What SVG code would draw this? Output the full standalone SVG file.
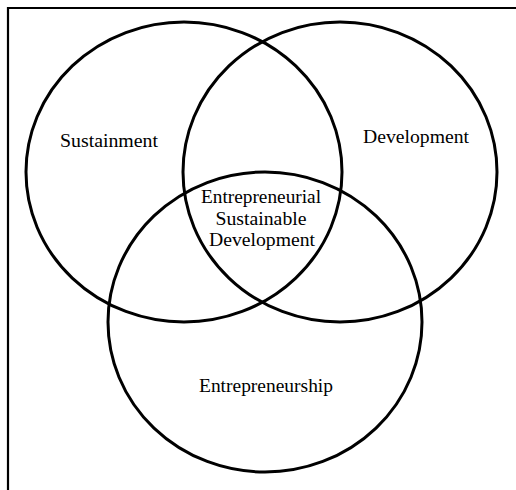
<svg xmlns="http://www.w3.org/2000/svg" width="516" height="490" viewBox="0 0 516 490">
<style>
.c{fill:none;stroke:#000;stroke-width:3}
.t{font-family:"Liberation Serif","Times New Roman",serif;font-size:18px;fill:#000;text-anchor:middle}
</style>
<rect width="516" height="490" fill="#fff"/>
<path d="M8,490 V8 H516" fill="none" stroke="#000" stroke-width="2.2"/>
<g id="sustainment">
<ellipse class="c" cx="184" cy="172" rx="158" ry="150"/>
<text class="t" x="109" y="147" textLength="98" lengthAdjust="spacingAndGlyphs">Sustainment</text>
</g>
<g id="development">
<ellipse class="c" cx="340" cy="172" rx="157" ry="150"/>
<text class="t" x="416" y="143" textLength="106" lengthAdjust="spacingAndGlyphs">Development</text>
</g>
<g id="entrepreneurship">
<ellipse class="c" cx="265" cy="322" rx="157" ry="150"/>
<text class="t" x="266" y="392" textLength="134" lengthAdjust="spacingAndGlyphs">Entrepreneurship</text>
</g>
<g id="center">
<text class="t" x="261" y="203" textLength="120" lengthAdjust="spacingAndGlyphs">Entrepreneurial</text>
<text class="t" x="261" y="225" textLength="91" lengthAdjust="spacingAndGlyphs">Sustainable</text>
<text class="t" x="262" y="246" textLength="106" lengthAdjust="spacingAndGlyphs">Development</text>
</g>
<g id="connectors"></g>
</svg>
